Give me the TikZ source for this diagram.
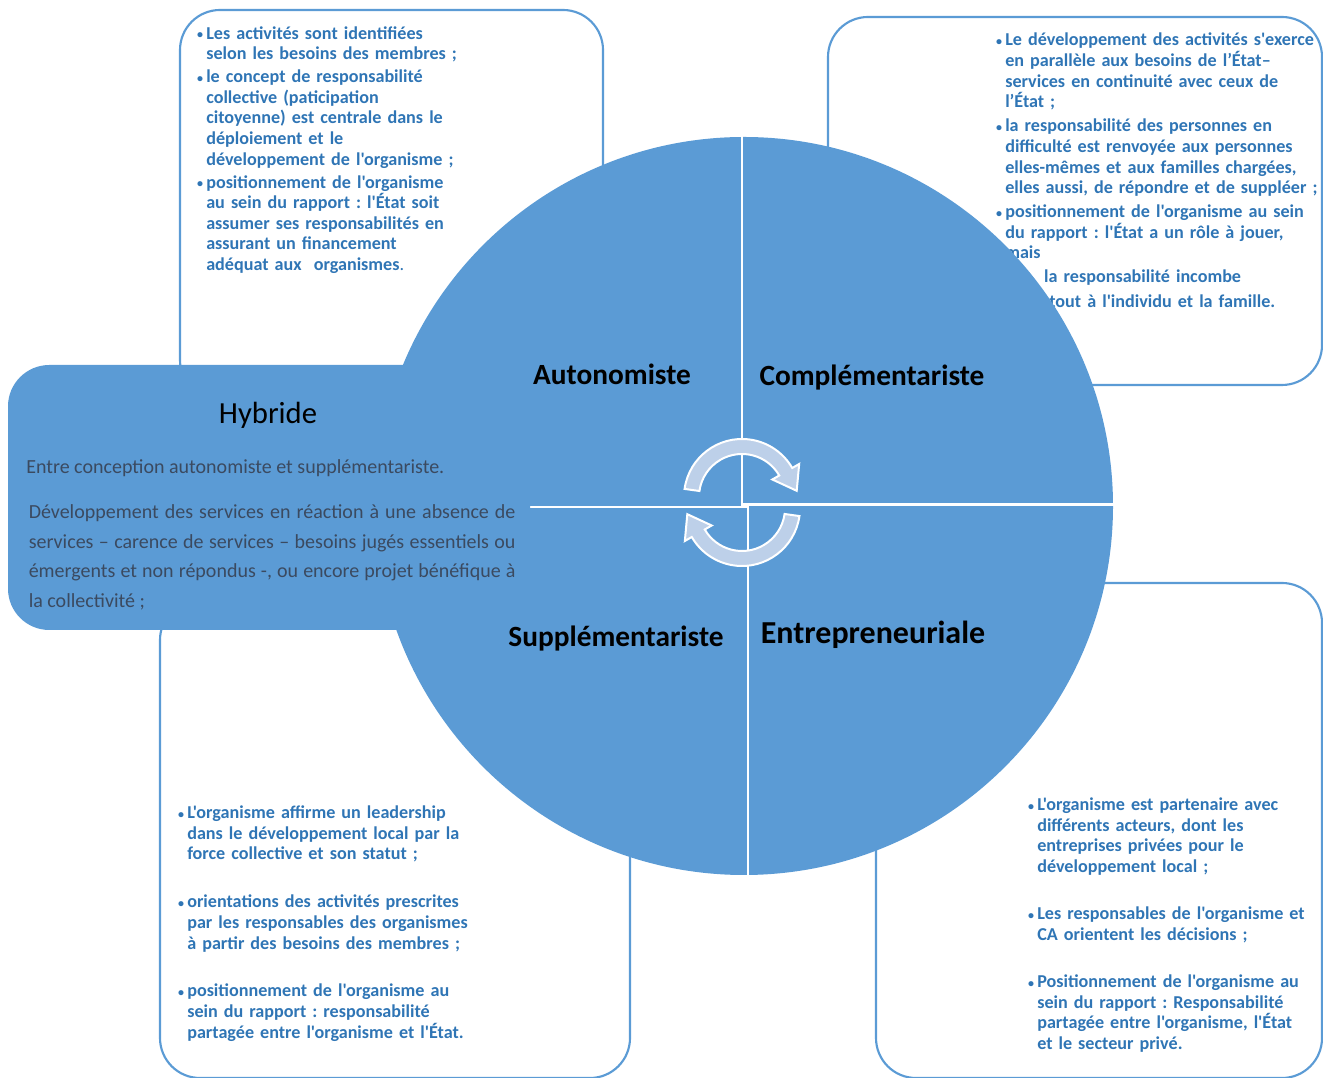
\documentclass[tikz,border=0pt]{standalone}
\usepackage{fontspec}
\setmainfont{Carlito}[Ligatures=TeXOff]
\usepackage{tikz}
\usetikzlibrary{positioning}
\frenchspacing

\definecolor{accent}{HTML}{5B9BD5}
\definecolor{puceblue}{HTML}{2F75B5}
\definecolor{ardoise}{HTML}{3B4A60}
\definecolor{clair}{HTML}{BDD0E9}

\tikzstyle{cadre} = [draw=accent, line width=1.6pt, rounded corners=30pt]
\tikzstyle{liste} = [anchor=base west, inner sep=0pt, text width=260pt,
    align=left, text=puceblue, font=\bfseries\fontsize{13.6}{15.45}\selectfont]
\tikzstyle{quartier} = [anchor=base, inner sep=0pt,
    font=\bfseries\fontsize{22}{26}\selectfont]
\tikzstyle{hybtexte} = [anchor=base west, inner sep=0pt, text=ardoise,
    font=\fontsize{15}{22.1}\selectfont]
\tikzstyle{coupure} = [draw=white, line width=2pt]
\tikzstyle{fleche} = [fill=clair, draw=white, line width=1.5pt]

\newcommand{\puce}{\makebox[7.5pt][l]{\hspace{0.6pt}\raisebox{0.4pt}{\fontsize{9}{9}\selectfont\textbullet}}}
\newcommand{\suite}{\hspace*{7.5pt}}

\begin{document}
\begin{tikzpicture}[x=0.75pt, y=0.75pt]
    \useasboundingbox (0,0) rectangle (1323,1077);

    % Frames behind the wheel
    \draw[cadre] (180,677) rectangle (603,1067);
    \draw[cadre] (828,692) rectangle (1322,1060);
    \draw[cadre] (160,-1) rectangle (630,477);
    \draw[cadre] (876,-1) rectangle (1322,494);

    % Autonomiste
    \node[liste] (listeauto) at (196,1037.7) {%
        \puce Les activités sont identifiées\\
        \suite selon les besoins des membres ;\\[1.7pt]
        \puce le concept de responsabilité\\
        \suite collective (paticipation\\
        \suite citoyenne) est centrale dans le\\
        \suite déploiement et le\\
        \suite développement de l'organisme ;\\[1.7pt]
        \puce positionnement de l'organisme\\
        \suite au sein du rapport : l'État soit\\
        \suite assumer ses responsabilités en\\
        \suite assurant un financement\\
        \suite adéquat aux\ \ organismes{\mdseries.}};

    % Complementariste
    \node[liste] (listecompl) at (995,1031) {%
        \puce Le développement des activités s'exerce\\
        \suite en parallèle aux besoins de l’État–\\
        \suite services en continuité avec ceux de\\
        \suite l’État ;\\[2.6pt]
        \puce la responsabilité des personnes en\\
        \suite difficulté est renvoyée aux personnes\\
        \suite elles-mêmes et aux familles chargées,\\
        \suite elles aussi, de répondre et de suppléer ;\\[2.6pt]
        \puce positionnement de l'organisme au sein\\
        \suite du rapport : l'État a un rôle à jouer,\\
        \suite mais\\[2.6pt]
        \hspace*{36.7pt}la responsabilité incombe\\[2.6pt]
        \hspace*{23pt}surtout à l'individu et la famille.};

    % Supplementariste
    \node[liste] (listesuppl) at (177,258.3) {%
        \puce L'organisme affirme un leadership\\
        \suite dans le développement local par la\\
        \suite force collective et son statut ;\\[20.5pt]
        \puce orientations des activités prescrites\\
        \suite par les responsables des organismes\\
        \suite à partir des besoins des membres ;\\[20.5pt]
        \puce positionnement de l'organisme au\\
        \suite sein du rapport : responsabilité\\
        \suite partagée entre l'organisme et l'État.};

    % Entrepreneuriale
    \node[liste] (listeentre) at (1027,266.3) {%
        \puce L'organisme est partenaire avec\\
        \suite différents acteurs, dont les\\
        \suite entreprises privées pour le\\
        \suite développement local ;\\[20pt]
        \puce Les responsables de l'organisme et\\
        \suite CA orientent les décisions ;\\[20pt]
        \puce Positionnement de l'organisme au\\
        \suite sein du rapport : Responsabilité\\
        \suite partagée entre l'organisme, l'État\\
        \suite et le secteur privé.};

    % The wheel and the cuts between its quarters
    \coordinate (centre) at (744,571);
    \fill[accent] (centre) circle [radius=369];
    \draw[coupure] (742,943) -- (742,572);
    \draw[coupure] (741,572.5) -- (1115,572.5);
    \draw[coupure] (374,570) -- (749,570);
    \draw[coupure] (748,570) -- (748,200);

    % Cycle arrows in the middle
    \coordinate (haut) at (742,580);
    \coordinate (bas) at (742,569);
    \draw[fleche] ([shift={(172:43)}]haut) -- ([shift={(172:58)}]haut)
        arc [start angle=172, end angle=30, radius=58]
        -- ([shift={(30:66)}]haut) -- ([shift={(54.7,6.2)}]haut)
        -- ([shift={(30:35)}]haut) -- ([shift={(30:43)}]haut)
        arc [start angle=30, end angle=172, radius=43] -- cycle;
    \draw[fleche] ([shift={(-8:43)}]bas) -- ([shift={(-8:58)}]bas)
        arc [start angle=-8, end angle=-150, radius=58]
        -- ([shift={(-150:66)}]bas) -- ([shift={(-54.7,-6.2)}]bas)
        -- ([shift={(-150:35)}]bas) -- ([shift={(-150:43)}]bas)
        arc [start angle=-150, end angle=-8, radius=43] -- cycle;

    % Hybride panel on top
    \fill[accent, rounded corners=31pt] (8,447) rectangle (530,712);
    \node[anchor=base, inner sep=0pt, font=\fontsize{23}{27}\selectfont]
        (hybride) at (268,653.7) {Hybride};
    \node[hybtexte] (hybconception) at (26,603.7)
        {Entre conception autonomiste et supplémentariste.};
    \node[hybtexte, text width=365pt, align=justify] (hybreaction) at (28.5,558) {%
        Développement des services en réaction à une absence de\linebreak
        services – carence de services – besoins jugés essentiels ou\linebreak
        émergents et non répondus -, ou encore projet bénéfique à\linebreak
        la collectivité ;};

    % Quarter titles
    \node[quartier] (autonomiste) at (612,692) {Autonomiste};
    \node[quartier] (complementariste) at (872,691) {Complémentariste};
    \node[quartier] (supplementariste) at (616,430) {Supplémentariste};
    \node[quartier, font=\bfseries\fontsize{24}{28}\selectfont]
        (entrepreneuriale) at (873,433) {Entrepreneuriale};
\end{tikzpicture}
\end{document}
